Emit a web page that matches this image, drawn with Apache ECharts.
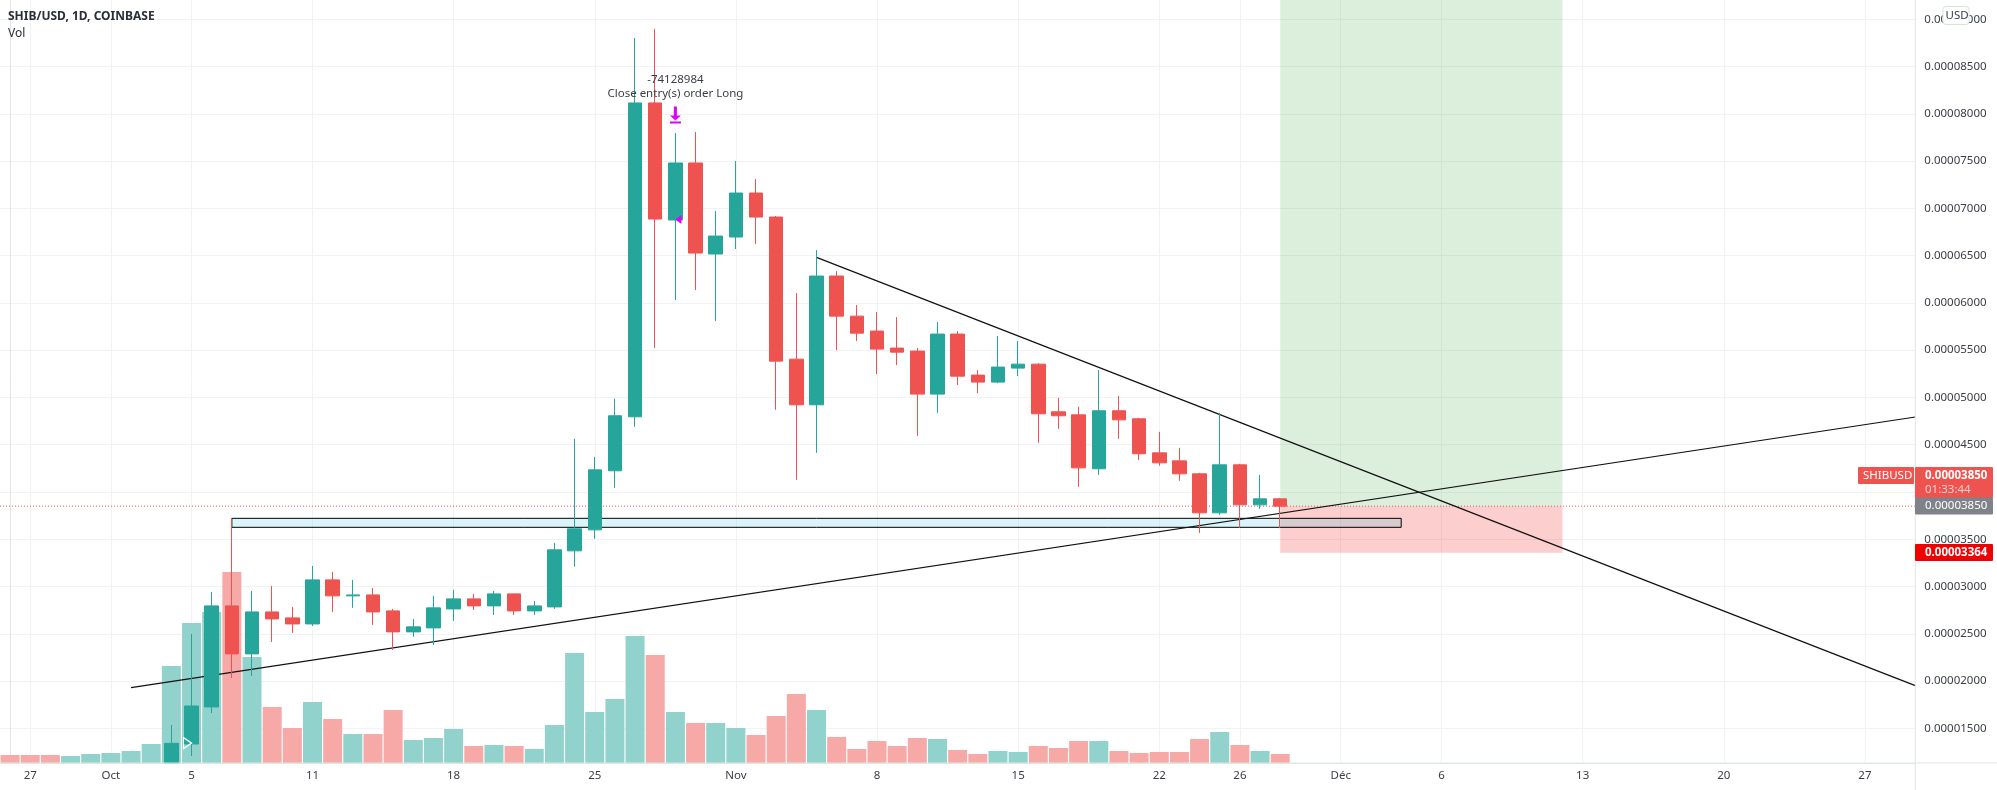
<!DOCTYPE html>
<html>
<head>
<meta charset="utf-8">
<style>html,body{margin:0;padding:0;background:#fff}#c{width:1997px;height:790px}</style>
<script src="https://cdn.jsdelivr.net/npm/echarts@6/dist/echarts.min.js"></script>
</head>
<body>
<div id="c"></div>
<script>
// Prices are in units of 0.00000001 USD. Volume is in arbitrary relative units.
const categories = ['09-26','09-27','09-28','09-29','09-30',
'10-01','10-02','10-03','10-04','10-05','10-06','10-07','10-08','10-09','10-10','10-11','10-12','10-13','10-14','10-15','10-16','10-17','10-18','10-19','10-20','10-21','10-22','10-23','10-24','10-25','10-26','10-27','10-28','10-29','10-30','10-31',
'11-01','11-02','11-03','11-04','11-05','11-06','11-07','11-08','11-09','11-10','11-11','11-12','11-13','11-14','11-15','11-16','11-17','11-18','11-19','11-20','11-21','11-22','11-23','11-24','11-25','11-26','11-27','11-28','11-29','11-30',
'12-01','12-02','12-03','12-04','12-05','12-06','12-07','12-08','12-09','12-10','12-11','12-12','12-13','12-14','12-15','12-16','12-17','12-18','12-19','12-20','12-21','12-22','12-23','12-24','12-25','12-26','12-27','12-28','12-29'];
const tickDates  = ['09-27','10-01','10-05','10-11','10-18','10-25','11-01','11-08','11-15','11-22','11-26','12-01','12-06','12-13','12-20','12-27'];
const tickLabels = ['27','Oct','5','11','18','25','Nov','8','15','22','26','Déc','6','13','20','27'];
const priceTicks = [1500,2000,2500,3000,3500,4000,4500,5000,5500,6000,6500,7000,7500,8000,8500,9000];

const firstCandle = 8; // candles before this date sit below the visible price range
const opens  = [1134,1334,1726,2795,2287,2731,2668,2604,3070,2901,2911,2742,2520,2562,2763,2869,2795,2922,2742,2784,3377,3599,4224,4795,8115,6877,7480,6517,6697,7162,6908,5405,4922,6284,5860,5702,5522,5490,5035,5670,5236,5162,5310,5352,4848,4816,4245,4859,4774,4414,4329,4192,3779,4287,3864,3927];
const closes = [1341,1736,2795,2287,2731,2657,2604,3070,2901,2911,2731,2520,2573,2774,2869,2795,2922,2742,2795,3388,3610,4234,4806,8115,6887,7480,6527,6707,7162,6908,5384,4922,6284,5860,5680,5511,5479,5035,5670,5225,5162,5321,5352,4827,4806,4255,4859,4763,4404,4308,4192,3779,4287,3864,3927,3850];
const lows   = [1134,1207,1662,2033,2054,2414,2509,2583,2731,2774,2594,2329,2467,2382,2636,2752,2699,2699,2699,2763,3208,3504,4044,4689,5522,6030,6136,5808,6570,6622,4869,4128,4414,5501,5596,5247,5342,4594,4837,5130,5045,5151,5225,4520,4668,4054,4181,4562,4340,4277,4118,3567,3758,3620,3821,3617];
const highs  = [1535,2498,2943,3723,2954,3006,2784,3218,3155,3070,2985,2763,2657,2901,2964,2922,2954,2925,2848,3462,4562,4372,4986,8803,8898,7797,7808,6972,7501,7310,6919,6104,6559,6337,5977,5903,5850,5522,5797,5702,5289,5649,5596,5363,4996,4901,5289,5017,4785,4636,4467,4202,4837,4298,4181,3938];

const volumes = [24,24,24,21,27,30,36,57,291,420,453,573,318,168,105,183,132,87,87,159,69,75,102,51,54,51,42,114,330,153,192,381,324,153,120,120,105,84,141,207,159,78,42,66,51,75,72,39,27,36,33,51,45,66,66,36,30,33,33,72,93,54,36,27];
const volumeUp = [0,0,0,1,1,1,1,1,1,1,1,0,1,0,0,1,0,1,0,0,1,1,1,0,1,0,1,1,1,1,1,1,0,1,0,1,1,0,0,0,1,0,0,0,0,0,1,0,0,1,1,0,0,0,1,0,0,0,0,0,1,0,1,0];

const lastPrice = 3850;
const risingLine  = [[6,1930],[94.5,4793]];
const fallingLine = [[40,6482],[94.5,1951]];
const supportZone = {from:11,to:69,low:3626,high:3721};
const longBox = {from:63,to:77,entry:3850,target:9204,stop:3358};
const exitArrow = [33,7988];
const exitFlag  = [33.15,6882];
const entryFlag = [8.8,1344];

const FONT = '"Noto Sans", sans-serif';
const TXT = '#3a3d46';
const GRID = '#f1f2f4';
const AXIS = '#dfe9e0';
const UP = '#26a69a', DOWN = '#ef5350';
const fmtPrice = v => (v/1e8).toFixed(8);

const candleData = categories.map((c,i)=>{
  const k=i-firstCandle;
  return (k>=0 && k<opens.length) ? [opens[k],closes[k],lows[k],highs[k]] : '-';
});

const tag = (x,y,w,h,fill,extra)=>({type:'rect',z:100,shape:Object.assign({x,y,width:w,height:h},extra||{}),style:{fill}});
const txt = (x,y,t,fill,weight)=>({type:'text',z:101,style:{x,y,text:t,fill,font:(weight||'normal')+' 11.5px '+FONT,textVerticalAlign:'middle'}});

const chart = echarts.init(document.getElementById('c'),null,{renderer:'canvas'});
chart.setOption({
  animation:false,
  backgroundColor:'#fff',
  title:{left:8,top:11,padding:0,text:'SHIB/USD, 1D, COINBASE',subtext:'Vol',itemGap:5,
    textStyle:{fontFamily:FONT,fontSize:12,fontWeight:'bold',color:'#2a2e39'},
    subtextStyle:{fontFamily:FONT,fontSize:12,color:'#2a2e39'}},
  grid:{left:-0.7,top:0,width:1916,height:763,containLabel:false},
  xAxis:[{
    type:'category',data:categories,boundaryGap:true,
    axisLine:{lineStyle:{color:AXIS}},axisTick:{show:false},
    axisLabel:{interval:(i,v)=>tickDates.includes(v),formatter:v=>tickLabels[tickDates.indexOf(v)],
      color:TXT,fontFamily:FONT,fontSize:11.5,margin:7},
    splitLine:{show:true,alignWithLabel:true,interval:(i,v)=>tickDates.includes(v),lineStyle:{color:GRID}}
  },{type:'value',min:-0.5,max:94.5,show:false,splitLine:{show:false}}],
  yAxis:[{
    type:'value',position:'right',min:1133,max:9204,
    axisLine:{show:true,lineStyle:{color:AXIS}},
    axisTick:{show:false,customValues:priceTicks},
    axisLabel:{customValues:priceTicks,formatter:fmtPrice,color:TXT,fontFamily:FONT,fontSize:11.5,margin:9},
    splitLine:{show:true,lineStyle:{color:GRID}}
  },{type:'value',min:0,max:2289,show:false,splitLine:{show:false}}],
  series:[
    {name:'Boxes',type:'line',xAxisIndex:1,yAxisIndex:0,data:[],silent:true,
      markArea:{silent:true,z:1,data:[
        [{xAxis:longBox.from,yAxis:longBox.target,itemStyle:{color:'rgba(76,175,80,0.2)'}},{xAxis:longBox.to,yAxis:longBox.entry}],
        [{xAxis:longBox.from,yAxis:longBox.entry,itemStyle:{color:'rgba(245,10,10,0.2)'}},{xAxis:longBox.to,yAxis:longBox.stop}],
        [{xAxis:supportZone.from,yAxis:supportZone.high,itemStyle:{color:'rgba(0,188,212,0.15)',borderColor:'#000',borderWidth:1}},{xAxis:supportZone.to,yAxis:supportZone.low}]
      ]}},
    {name:'Vol',type:'bar',xAxisIndex:0,yAxisIndex:1,z:2,barWidth:19,
      data:volumes.map((v,i)=>({value:v,itemStyle:{color:volumeUp[i]?'#92d2cc':'#f7a9a7'}}))},
    {name:'Last',type:'line',xAxisIndex:1,yAxisIndex:0,z:3,showSymbol:false,silent:true,
      data:[[-0.5,lastPrice],[94.5,lastPrice]],lineStyle:{color:DOWN,width:1,type:[1,2]}},
    {name:'Rising',type:'line',xAxisIndex:1,yAxisIndex:0,z:3,showSymbol:false,silent:true,
      data:risingLine,lineStyle:{color:'#111',width:1.2}},
    {name:'Falling',type:'line',xAxisIndex:1,yAxisIndex:0,z:3,showSymbol:false,silent:true,
      data:fallingLine,lineStyle:{color:'#111',width:1.2}},
    {name:'SHIBUSD',type:'candlestick',xAxisIndex:0,yAxisIndex:0,z:5,barWidth:14,
      itemStyle:{color:UP,color0:DOWN,borderColor:UP,borderColor0:DOWN,borderWidth:1},
      data:candleData},
    {name:'Exit',type:'scatter',xAxisIndex:1,yAxisIndex:0,z:6,silent:true,
      data:[exitArrow],symbol:'path://M4 0h3v9h4l-5.5 5-5.5-5h4z M0 15h11v2H0z',symbolSize:[11,17],
      itemStyle:{color:'#e000ff',opacity:1},
      label:{show:true,position:'top',distance:5,formatter:'-74128984\nClose entry(s) order Long',
        color:TXT,fontFamily:FONT,fontSize:11.5,lineHeight:14.5,align:'center'}},
    {name:'ExitFlag',type:'scatter',xAxisIndex:1,yAxisIndex:0,z:6,silent:true,
      data:[exitFlag],symbol:'triangle',symbolSize:[9,6],symbolRotate:90,
      itemStyle:{color:'#e000ff',opacity:1}},
    {name:'EntryFlag',type:'scatter',xAxisIndex:1,yAxisIndex:0,z:6,silent:true,
      data:[entryFlag],symbol:'triangle',symbolSize:[11,8],symbolRotate:-90,
      itemStyle:{color:'rgba(0,0,0,0)',borderColor:'#fff',borderWidth:1.2,opacity:1}}
  ],
  graphic:[
    {type:'line',z:90,shape:{x1:0,y1:763,x2:1997,y2:763},style:{stroke:AXIS,lineWidth:1}},
    {type:'line',z:90,shape:{x1:1915.3,y1:0,x2:1915.3,y2:790},style:{stroke:AXIS,lineWidth:1}},
    tag(1943,6.5,26,18,'#fff',{r:3}),
    txt(1945.5,15.5,'USD',TXT),
    {type:'rect',z:100,shape:{x:1943,y:6.5,width:26,height:18,r:3},style:{fill:'none',stroke:'#d5e5d8'}},
    tag(1858,467,56,17,DOWN,{r:1}),
    txt(1863,475.5,'SHIBUSD','#fff'),
    tag(1915,467,78,31,DOWN,{r:1}),
    txt(1925,475.5,'0.00003850','#fff','bold'),
    txt(1925,490,'01:33:44','#ffd0cf'),
    tag(1915,497.5,78,17,'#808289',{r:1}),
    txt(1925,506,'0.00003850','#fff'),
    tag(1915,544,78,17,'#f00000',{r:1}),
    txt(1925,552.5,'0.00003364','#fff','bold')
  ]
});
</script>
</body>
</html>
